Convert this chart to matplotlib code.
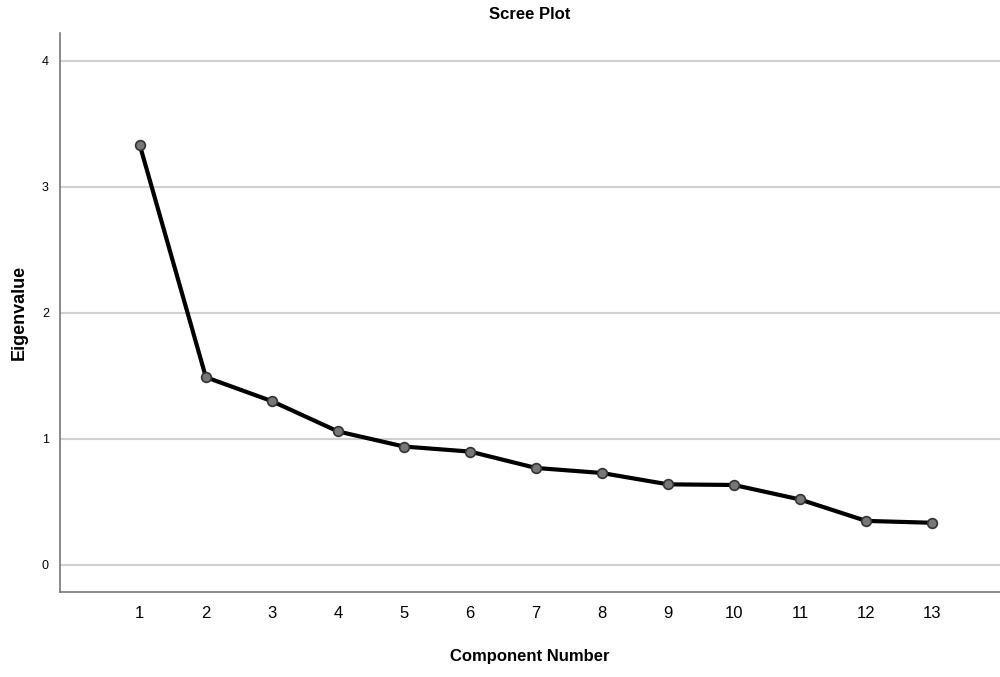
import matplotlib
matplotlib.use('Agg')
import matplotlib.pyplot as plt

plt.rcParams['font.family'] = ['Liberation Sans', 'DejaVu Sans']

components = [1, 2, 3, 4, 5, 6, 7, 8, 9, 10, 11, 12, 13]
eigenvalues = [3.33, 1.49, 1.30, 1.06, 0.94, 0.90, 0.77, 0.73, 0.64, 0.635, 0.52, 0.35, 0.335]

fig = plt.figure(figsize=(10, 6.77), dpi=100)
ax = fig.add_axes([0.06, 0.1256, 0.94, 0.8254])

ax.plot(components, eigenvalues, color='black', lw=3, zorder=3,
        marker='o', markersize=7, markerfacecolor='#777777',
        markeredgecolor='#333333', markeredgewidth=1.2)

ax.set_xlim(-0.21, 14.03)
ax.set_ylim(-0.214, 4.22)
ax.set_yticks([0, 1, 2, 3, 4])
ax.set_xticks(components)
ax.grid(axis='y', color='#d0d0d0', lw=1.5, zorder=0)
ax.tick_params(length=0)
ax.tick_params(axis='y', labelsize=9, pad=8)
ax.tick_params(axis='x', labelsize=12, pad=10)

for s in ['top', 'right']:
    ax.spines[s].set_visible(False)
for s in ['left', 'bottom']:
    ax.spines[s].set_color('#777777')
    ax.spines[s].set_linewidth(1.2)

ax.set_title('Scree Plot', fontsize=12, fontweight='bold', pad=10)
ax.set_xlabel('Component Number', fontsize=12, fontweight='bold', labelpad=20)
ax.set_ylabel('Eigenvalue', fontsize=13, fontweight='bold', labelpad=10)

fig.savefig('out.png', dpi=100)
